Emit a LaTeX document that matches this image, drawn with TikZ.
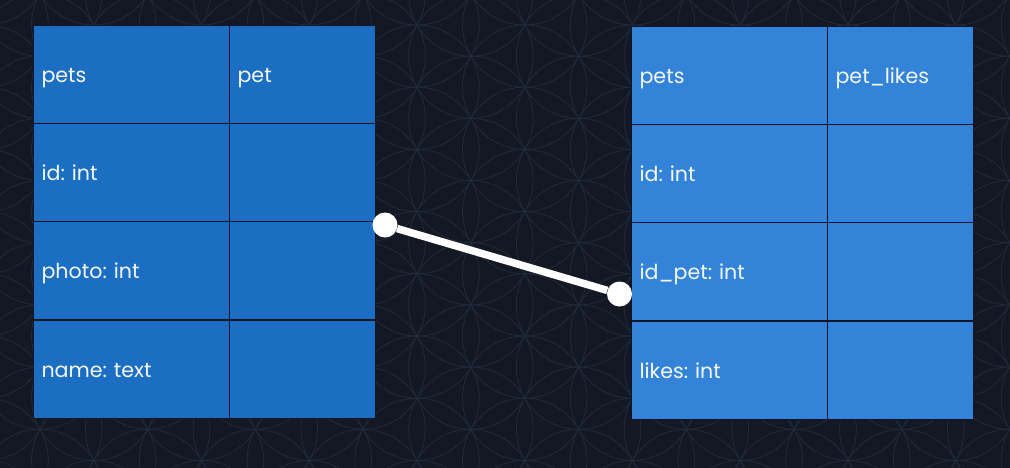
\documentclass[tikz,border=0pt]{standalone}
\usepackage{fontspec}
\setmainfont{Poppins}
\frenchspacing
\definecolor{bgc}{HTML}{131824}
\definecolor{patc}{HTML}{212A37}
\definecolor{tblA}{HTML}{1B6EC2}
\definecolor{tblB}{HTML}{3384D9}
\definecolor{edgec}{HTML}{0A1628}
\definecolor{txtc}{HTML}{F4F7FB}
\tikzset{
  cellbox/.style={draw=edgec, line width=1.1pt, anchor=north west, inner xsep=8pt, inner ysep=0pt,
    minimum height=98pt, text height=17pt, text depth=1pt, align=left, text=txtc,
    font=\fontsize{20.6}{24}\selectfont},
  wide/.style={text width=180pt, minimum width=196pt},
  narrow/.style={text width=130pt, minimum width=146pt},
  dot/.style={circle, fill=white, draw=none, minimum size=25pt, inner sep=0pt},
  link/.style={white, line width=7.5pt}
}
\begin{document}
\begin{tikzpicture}[x=1pt,y=-1pt]
\useasboundingbox (0,0) rectangle (1010,467);
\fill[bgc] (-5,-5) rectangle (1015,472);
\begin{scope}
\clip (-5,-5) rectangle (1015,472);
\foreach \k in {-9,...,12}{
  \foreach \m in {-2,...,9}{
    \pgfmathsetmacro{\cx}{417+53.87*\k}
    \pgfmathsetmacro{\cy}{25+62.2*\m+31.1*mod(abs(\k),2)}
    \draw[patc, line width=0.8pt] (\cx,\cy) circle[radius=62.2pt];
  }
}
\end{scope}
% left table
\node[cellbox, wide, fill=tblA] (l1a) at (33,25) {pets};
\node[cellbox, narrow, fill=tblA] (l1b) at (229,25) {pet};
\node[cellbox, wide, fill=tblA] (l2a) at (33,123) {id: int};
\node[cellbox, narrow, fill=tblA] (l2b) at (229,123) {};
\node[cellbox, wide, fill=tblA] (l3a) at (33,221) {photo: int};
\node[cellbox, narrow, fill=tblA] (l3b) at (229,221) {};
\node[cellbox, wide, fill=tblA] (l4a) at (33,320) {name: text};
\node[cellbox, narrow, fill=tblA] (l4b) at (229,320) {};
% right table
\node[cellbox, wide, fill=tblB] (r1a) at (631,26) {pets};
\node[cellbox, narrow, fill=tblB] (r1b) at (827,26) {pet\_likes};
\node[cellbox, wide, fill=tblB] (r2a) at (631,124) {id: int};
\node[cellbox, narrow, fill=tblB] (r2b) at (827,124) {};
\node[cellbox, wide, fill=tblB] (r3a) at (631,222) {id\_pet: int};
\node[cellbox, narrow, fill=tblB] (r3b) at (827,222) {};
\node[cellbox, wide, fill=tblB] (r4a) at (631,321) {likes: int};
\node[cellbox, narrow, fill=tblB] (r4b) at (827,321) {};
% connector
\node[dot] (pa) at (385,225) {};
\node[dot] (pb) at (619.5,294) {};
\draw[link] (pa) -- (pb);
\end{tikzpicture}
\end{document}
